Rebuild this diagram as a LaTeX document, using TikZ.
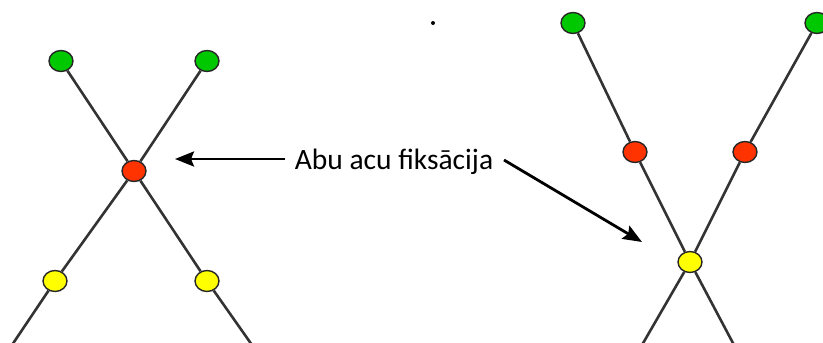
\documentclass[tikz,border=0pt]{standalone}
\usepackage{fontspec}
\setmainfont{Carlito}
\usetikzlibrary{arrows.meta,shapes.geometric}
\definecolor{eyegreen}{RGB}{0,200,0}
\definecolor{eyered}{RGB}{255,51,0}
\definecolor{eyeyellow}{RGB}{255,255,0}
\tikzset{
  pt/.style={ellipse,draw=black!85,line width=1.4pt,minimum width=24pt,minimum height=21pt,inner sep=0pt},
  gpt/.style={pt,fill=eyegreen},
  rpt/.style={pt,fill=eyered},
  ypt/.style={pt,fill=eyeyellow},
  ray/.style={line width=2.6pt,draw=black!80},
  pointer/.style={line width=2.8pt,-{Stealth[length=19pt,width=15pt,inset=3pt]}}
}
\begin{document}
\begin{tikzpicture}[x=1pt,y=-1pt]
\useasboundingbox (0,0) rectangle (823,343);
\clip (0,0) rectangle (823,343);
% left figure
\node[gpt] (lg1) at (61,61) {};
\node[gpt] (lg2) at (207,61) {};
\node[rpt] (lr) at (134,171) {};
\node[ypt] (ly1) at (55,281) {};
\node[ypt] (ly2) at (207,281) {};
\coordinate (lb1) at (12,345);
\coordinate (lb2) at (252,345);
\draw[ray] (lg1) -- (lr);
\draw[ray] (lg2) -- (lr);
\draw[ray] (lr) -- (ly1);
\draw[ray] (lr) -- (ly2);
\draw[ray] (ly1) -- (lb1);
\draw[ray] (ly2) -- (lb2);
% right figure
\node[gpt] (rg1) at (573,23) {};
\node[gpt] (rg2) at (817,23) {};
\node[rpt] (rr1) at (635,152) {};
\node[rpt] (rr2) at (745,152) {};
\node[ypt] (ry) at (690,262) {};
\coordinate (rb1) at (642,345);
\coordinate (rb2) at (734,345);
\draw[ray] (rg1) -- (rr1);
\draw[ray] (rg2) -- (rr2);
\draw[ray] (rr1) -- (ry);
\draw[ray] (rr2) -- (ry);
\draw[ray] (ry) -- (rb1);
\draw[ray] (ry) -- (rb2);
% label and pointers
\node[font=\fontsize{29.5}{34}\selectfont,inner sep=0pt] (lbl) at (394,162) {Abu acu fiksācija};
\coordinate (a1s) at (285,159);
\coordinate (a1e) at (175,159);
\coordinate (a2s) at (504,160);
\coordinate (a2e) at (642,242);
\draw[pointer] (a1s) -- (a1e);
\draw[pointer] (a2s) -- (a2e);
\node[circle,fill=black,inner sep=0pt,minimum size=4pt] (dot) at (433,23) {};
\end{tikzpicture}
\end{document}
